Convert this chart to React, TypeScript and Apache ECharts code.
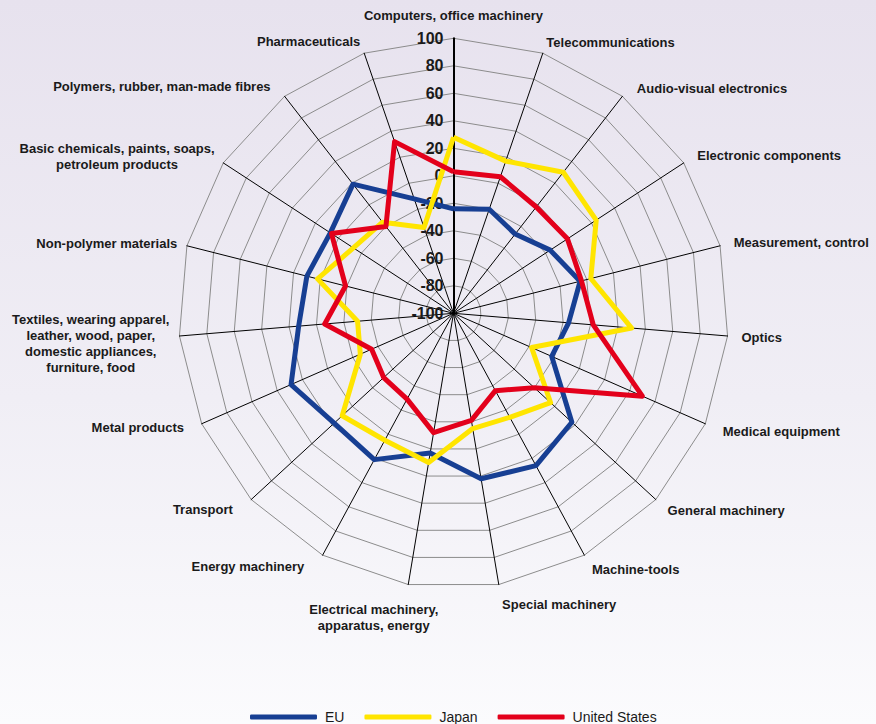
import React, { useEffect, useRef } from "react";
import * as echarts from "echarts";

// Categories, clockwise from the top
const categories = [
  "Computers, office machinery",
  "Telecommunications",
  "Audio-visual electronics",
  "Electronic components",
  "Measurement, control",
  "Optics",
  "Medical equipment",
  "General machinery",
  "Machine-tools",
  "Special machinery",
  "Electrical machinery,\napparatus, energy",
  "Energy machinery",
  "Transport",
  "Metal products",
  "Textiles, wearing apparel,\nleather, wood, paper,\ndomestic appliances,\nfurniture, food",
  "Non-polymer materials",
  "Basic chemicals, paints, soaps,\npetroleum products",
  "Polymers, rubber, man-made fibres",
  "Pharmaceuticals",
];

const seriesNames = ["EU", "Japan", "United States"];
const euValues = [-24, -20, -27, -16, -5, -16, -22, 17, 26, 22, 3, 21, 18, 29, 13, 10, 7, 19, -12];
const japanValues = [28, 17, 30, 24, 3, 30, -38, -4, -14, -15, 10, 5, 10, -26, -30, 2, -13, -16, -34];
const usValues = [3, 5, -2, -1, -4, 2, 50, -20, -36, -21, -12, -29, -31, -35, -6, -19, 6, -20, 32];

const axisMin = -100;
const axisMax = 100;
const axisSplits = 10;

// Layout of indicator names (clockwise order)
const nameGaps = [15, 11, 10.5, 12.6, 14, 14, 19, 16, 16, 20, 33, 13.4, 15.4, 10.5, 89, 10, 11, 13, 12];
const nameStyles: Record<number, any> = {
  2: { padding: [0, 0, 0, 8] },
  3: { padding: [0, 0, 0, 3] },
  10: { align: "center", verticalAlign: "middle", padding: [0, 58, 0, 0] },
  11: { padding: [0, 12, 0, 0] },
  12: { padding: [0, 7, 0, 0] },
  13: { padding: [0, 8, 0, 0] },
  14: { align: "center", verticalAlign: "middle" },
  16: { align: "center", verticalAlign: "middle", padding: [0, 194, 12, 0] },
  17: { padding: [0, 6, 0, 0] },
};

const colors = ["#173f93", "#ffe500", "#e3001b"];

export default function App() {
  const ref = useRef<HTMLDivElement>(null);
  useEffect(() => {
    if (!ref.current) return;
    const chart = echarts.init(ref.current, undefined, { renderer: "svg" });
    // ECharts lays indicators out counter-clockwise; reorder to get clockwise
    const order = [0, ...categories.map((_, i) => i).slice(1).reverse()];
    const reorder = (arr: number[]) => order.map((i) => arr[i]);

    const indicator = order.map((i) => {
      const o: any = {
        name: categories[i],
        min: axisMin,
        max: axisMax,
        nameGap: nameGaps[i],
        axisLabel: { show: i === 0 },
      };
      if (nameStyles[i]) o.nameTextStyle = { ...nameStyles[i] };
      if (i === 0) o.axisLine = { lineStyle: { width: 2, color: "#000" } };
      return o;
    });

    const allValues = [euValues, japanValues, usValues];

    chart.setOption({
      animation: false,
      backgroundColor: new echarts.graphic.LinearGradient(0, 0, 0, 1, [
        { offset: 0, color: "#e7e2ee" },
        { offset: 0.55, color: "#f0eef5" },
        { offset: 1, color: "#fbfbfd" },
      ]),
      legend: {
        data: seriesNames,
        top: 704,
        left: 245,
        icon: "roundRect",
        itemWidth: 67,
        itemHeight: 5,
        itemGap: 20,
        textStyle: {
          fontSize: 14,
          lineHeight: 16,
          color: "#1a1a1a",
          fontFamily: "Liberation Sans, Arial, sans-serif",
          padding: [0, 0, 0, 3],
        },
      },
      radar: {
        center: [453.5, 313.3],
        radius: 275,
        startAngle: 90,
        shape: "polygon",
        splitNumber: axisSplits,
        indicator,
        axisName: {
          color: "#1a1a1a",
          fontSize: 13,
          fontWeight: "bold",
          fontFamily: "Liberation Sans, Arial, sans-serif",
          lineHeight: 16,
        },
        axisLine: { show: true, lineStyle: { color: "#000", width: 1 } },
        axisTick: { show: false },
        axisLabel: {
          show: false,
          fontSize: 16,
          fontWeight: "bold",
          color: "#1a1a1a",
          fontFamily: "Liberation Sans, Arial, sans-serif",
          margin: 10,
        },
        splitLine: { show: true, lineStyle: { color: "#8c8c8c", width: 1 } },
        splitArea: { show: false },
      },
      series: seriesNames.map((name, k) => ({
        type: "radar",
        name,
        symbol: "none",
        lineStyle: { width: 5, color: colors[k] },
        itemStyle: { color: colors[k] },
        z: 2 + k,
        data: [{ name, value: reorder(allValues[k]) }],
      })),
    });
    return () => chart.dispose();
  }, []);
  return (
    <div
      ref={ref}
      style={{ position: "absolute", left: 0, top: 0, width: 876, height: 724 }}
    />
  );
}
